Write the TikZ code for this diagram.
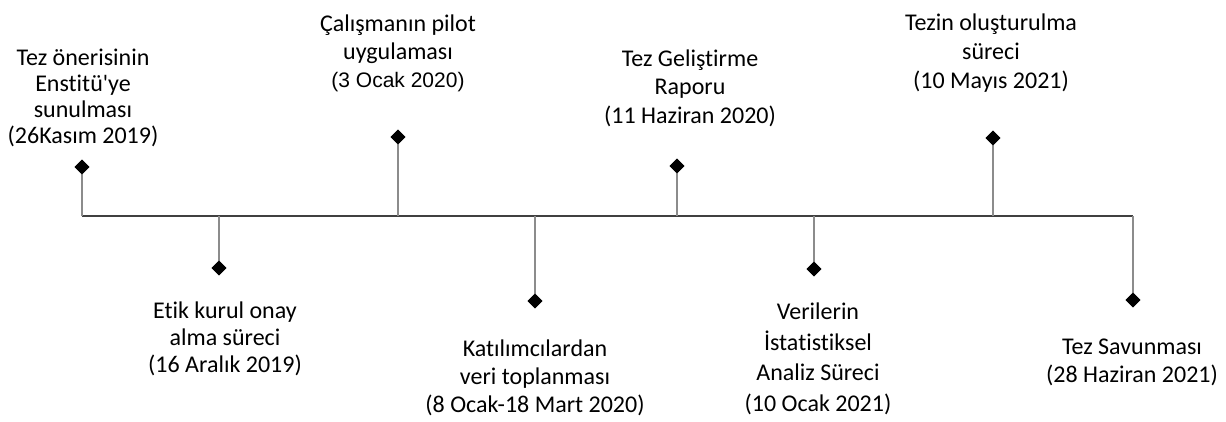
\documentclass[tikz,border=0pt]{standalone}
\usepackage{fontspec}
\newfontfamily\calibf[Ligatures=NoCommon]{Carlito}
\newfontfamily\arialf{Liberation Sans}
\usetikzlibrary{shapes.geometric}
\tikzset{
  lbl/.style={font=\calibf\fontsize{24}{#1}\selectfont, align=center, anchor=base, inner sep=0pt},
  mark diamond/.style={diamond, fill=black, draw=none, minimum width=15pt, minimum height=15pt, inner sep=0pt},
  axisline/.style={draw=black!75, line width=1.3pt},
  stem/.style={draw=black!70, line width=0.7pt, double=black!45, double distance=1.2pt},
}
\begin{document}
\begin{tikzpicture}[x=1pt,y=-1pt]
\useasboundingbox (0,0) rectangle (1226,421);
% axis coordinates
\coordinate (a1) at (82,216);
\coordinate (a2) at (219,216);
\coordinate (a3) at (398,216);
\coordinate (a4) at (535,216);
\coordinate (a5) at (677,216);
\coordinate (a6) at (814,216);
\coordinate (a7) at (993,216);
\coordinate (a8) at (1133,216);
% diamonds
\node[mark diamond] (d1) at (82,167) {};
\node[mark diamond] (d2) at (219,268) {};
\node[mark diamond] (d3) at (398,137) {};
\node[mark diamond] (d4) at (535,301) {};
\node[mark diamond] (d5) at (677,166) {};
\node[mark diamond] (d6) at (814,269) {};
\node[mark diamond] (d7) at (993,138) {};
\node[mark diamond] (d8) at (1133,300) {};
% lines
\draw[axisline] (a1) -- (a8);
\foreach \i in {1,...,8} { \draw[stem] (a\i) -- (d\i.center); }
\foreach \i in {1,...,8} { \node[mark diamond] at (d\i) {}; }
% labels (anchor = baseline of last line)
\node[lbl=26] (t1) at (83,143) {Tez önerisinin\\Enstitü'ye\\sunulması\\(26Kasım 2019)};
\node[lbl=27] (t2) at (225,372) {Etik kurul onay\\alma süreci\\(16 Aralık 2019)};
\node[lbl=28] (t3) at (398,87) {Çalışmanın pilot\\uygulaması\\{\arialf\fontsize{21}{28}\selectfont (3 Ocak 2020)}};
\node[lbl=28] (t4) at (535,412) {Katılımcılardan\\veri toplanması\\(8 Ocak-18 Mart 2020)};
\node[lbl=28.5] (t5) at (690,123) {Tez Geliştirme\\Raporu\\(11 Haziran 2020)};
\node[lbl=30.5] (t6) at (818,411) {Verilerin\\İstatistiksel\\Analiz Süreci\\(10 Ocak 2021)};
\node[lbl=29] (t7) at (991,88) {Tezin oluşturulma\\süreci\\(10 Mayıs 2021)};
\node[lbl=28] (t8) at (1132,382) {Tez Savunması\\(28 Haziran 2021)};
\end{tikzpicture}
\end{document}
